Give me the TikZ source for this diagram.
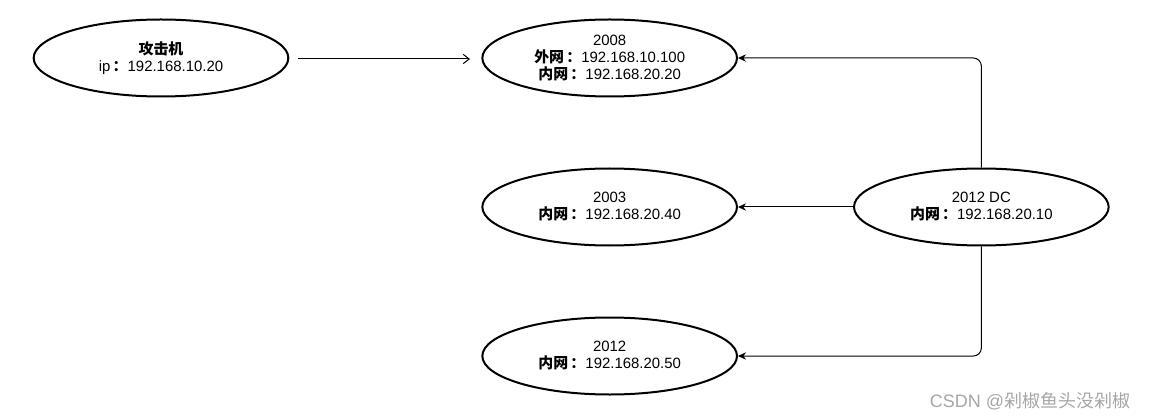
\documentclass[tikz,border=0pt]{standalone}
\usepackage{fontspec}
\setmainfont{Liberation Sans}
\newfontfamily\cjk{Noto Sans CJK SC}
\usetikzlibrary{shapes.geometric}
\usetikzlibrary{positioning}
\usetikzlibrary{arrows.meta}

\newcommand{\zh}[1]{{\cjk\bfseries #1}}
\newcommand{\colonzh}{\hspace{0.15em}\zh{：}}

\begin{document}
\begin{tikzpicture}[host/.style={draw, ellipse, line width=1.5pt, minimum width=191pt, minimum height=57.75pt, inner sep=0pt, align=center, font=\fontsize{11.2}{12.75}\selectfont}]
  \useasboundingbox (0,0) rectangle (863.25pt,-315pt);

  % Define nodes
  \node[host] (attacker) at (120.75pt,-43.5pt) {\zh{攻击机}\\ip\colonzh 192.168.10.20};
  \node[host, right=144pt of attacker] (web) {2008\\\zh{外网}\colonzh 192.168.10.100\\\zh{内网}\colonzh 192.168.20.20};
  \node[host, below=52.5pt of web] (srv03) {2003\\\zh{内网}\colonzh 192.168.20.40};
  \node[host, below=52.5pt of srv03] (srv12) {2012\\\zh{内网}\colonzh 192.168.20.50};
  \node[host, right=86.25pt of srv03] (dc) {2012 DC\\\zh{内网}\colonzh 192.168.20.10};
  \node[text=gray!70, font=\fontsize{13.5}{15}\selectfont] (watermark) at (772.5pt,-300.75pt) {CSDN @{\cjk 剁椒鱼头没剁椒}};

  \coordinate (src) at (223.5pt,-44.25pt);
  \coordinate (dst) at (352.5pt,-44.25pt);

  % Connect the nodes
  \draw [-{Straight Barb[length=4.5pt,width=7pt]}, line width=0.75pt] (src) -- (dst);
  \draw [-{Stealth[length=6pt,width=5.5pt]}, line width=0.75pt, rounded corners=6pt] (dc.north) |- (web.east);
  \draw [-{Stealth[length=6pt,width=5.5pt]}, line width=0.75pt] (dc.west) -- (srv03.east);
  \draw [-{Stealth[length=6pt,width=5.5pt]}, line width=0.75pt, rounded corners=6pt] (dc.south) |- (srv12.east);

\end{tikzpicture}
\end{document}
